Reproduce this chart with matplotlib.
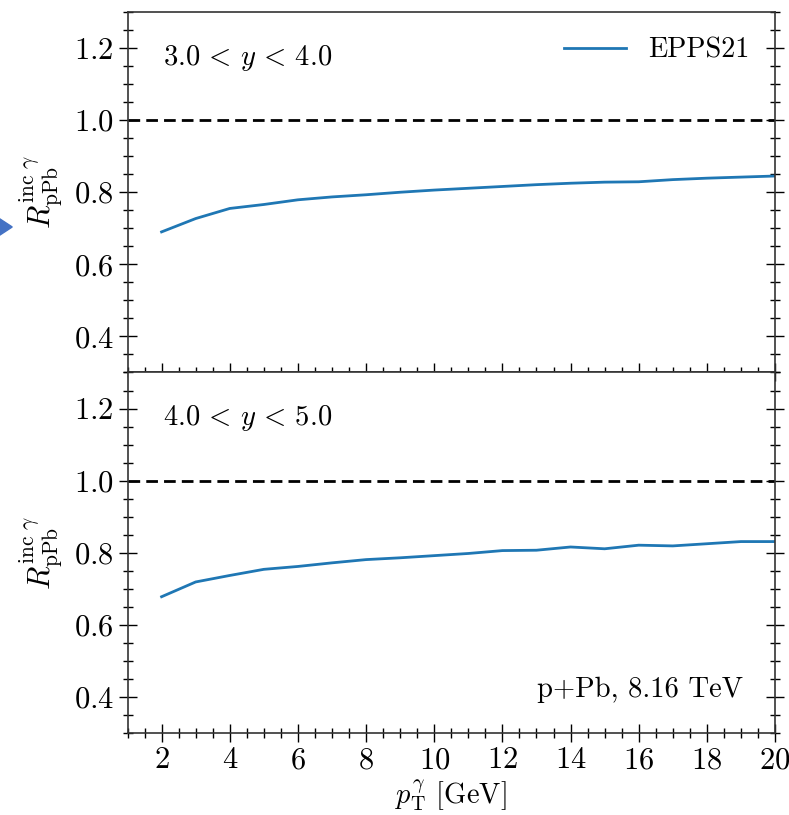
import matplotlib
matplotlib.use("Agg")
import matplotlib.pyplot as plt
from matplotlib.ticker import MultipleLocator
from matplotlib.patches import Polygon

plt.rcParams['font.family'] = 'serif'
plt.rcParams['font.serif'] = ['cmr10', 'DejaVu Serif']
plt.rcParams['mathtext.fontset'] = 'cm'
plt.rcParams['axes.formatter.use_mathtext'] = True
plt.rcParams['axes.unicode_minus'] = False

pt = [2, 3, 4, 5, 6, 7, 8, 9, 10, 11, 12, 13, 14, 15, 16, 17, 18, 19, 20]
r_y34 = [0.690, 0.727, 0.755, 0.766, 0.779, 0.787, 0.793, 0.800, 0.806, 0.811,
         0.816, 0.821, 0.825, 0.828, 0.829, 0.835, 0.839, 0.842, 0.845]
r_y45 = [0.678, 0.719, 0.737, 0.754, 0.762, 0.772, 0.781, 0.786, 0.792, 0.798,
         0.806, 0.807, 0.816, 0.811, 0.821, 0.819, 0.825, 0.831, 0.831]
panel_labels = [r"$3.0\,<\,y\,<\,4.0$", r"$4.0\,<\,y\,<\,5.0$"]
series_label = "EPPS21"
system_label = "p+Pb, 8.16 TeV"
ylabel = r"$R^{\mathrm{inc}\ \gamma}_{\mathrm{pPb}}$"
xlabel = r"$p_{\mathrm{T}}^{\gamma}$ [GeV]"
yticks = [0.4, 0.6, 0.8, 1.0, 1.2]
xticks = [2, 4, 6, 8, 10, 12, 14, 16, 18, 20]

fig = plt.figure(figsize=(7.89, 8.15), dpi=100)
left, right, top, bottom = 0.1616, 0.9823, 0.9853, 0.1006
h = (top - bottom) / 2
ax1 = fig.add_axes([left, bottom + h, right - left, h])
ax2 = fig.add_axes([left, bottom, right - left, h], sharex=ax1)

blue = '#1f77b4'
for ax, vals, lab in zip([ax1, ax2], [r_y34, r_y45], panel_labels):
    ax.plot(pt, vals, color=blue, lw=2.0, label=series_label)
    ax.axhline(1.0, color='black', ls='--', lw=2.0, dashes=(4.2, 2.2))
    ax.set_xlim(1, 20)
    ax.set_ylim(0.3, 1.3)
    ax.set_yticks(yticks)
    ax.yaxis.set_minor_locator(MultipleLocator(0.05))
    ax.xaxis.set_minor_locator(MultipleLocator(0.5))
    ax.tick_params(which='both', direction='inout', left=True, right=True,
                   top=False, bottom=True, labelsize=22, width=1.0, color='black')
    ax.tick_params(which='major', length=13)
    ax.tick_params(which='minor', length=6.5)
    for s in ax.spines.values():
        s.set_linewidth(1.2)
        s.set_color('#333333')
    ax.set_ylabel(ylabel, fontsize=22, labelpad=6)
    ax.text(0.0555, 0.873, lab, transform=ax.transAxes, fontsize=20.6,
            ha='left', va='center')

ax1.set_xticks(xticks)
plt.setp(ax1.get_xticklabels(), visible=False)
ax2.set_xlabel(xlabel, fontsize=20.5, labelpad=2)

ax1.legend(loc='upper right', frameon=False, fontsize=20.3, handlelength=2.2,
           handletextpad=0.8, borderaxespad=0.5)
ax2.text(0.951, 0.12, system_label, transform=ax2.transAxes, fontsize=20.6,
         ha='right', va='center')

# decorative marker at left edge
tri = Polygon([[-0.005, 0.7345], [0.0155, 0.7215], [-0.005, 0.7085]],
              closed=True, transform=fig.transFigure, color='#4472c4',
              clip_on=False)
fig.patches.append(tri)

fig.savefig("out.png", dpi=100)
